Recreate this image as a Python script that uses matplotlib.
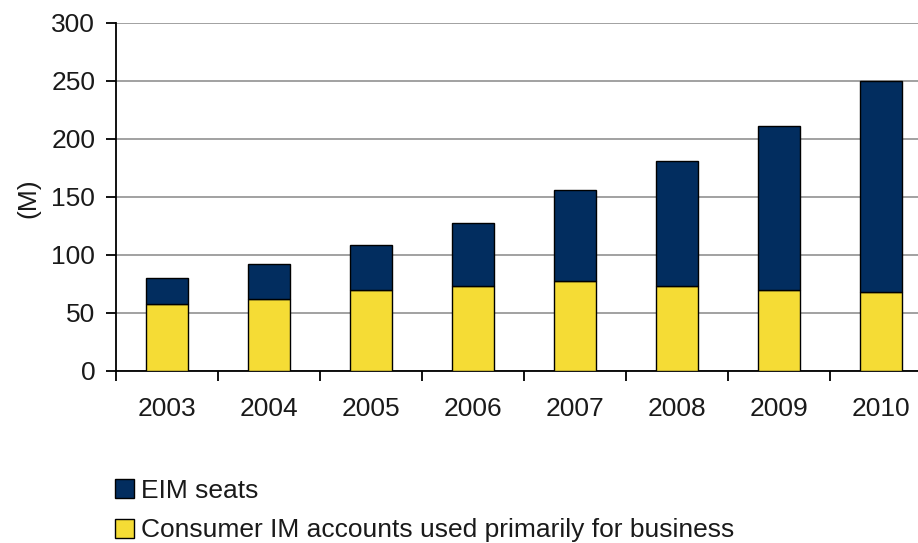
import matplotlib.pyplot as plt
import numpy as np
from matplotlib.patches import Patch

years = ["2003", "2004", "2005", "2006", "2007", "2008", "2009", "2010"]
consumer_im = [58, 62, 70, 73, 78, 73, 70, 68]
eim_seats = [22, 30, 39, 55, 78, 108, 141, 182]

navy = "#022d5f"
yellow = "#f5dc35"
txt = "#1a1a1a"

plt.rcParams['font.family'] = ['Liberation Sans', 'DejaVu Sans']

fig = plt.figure(figsize=(9.18, 5.43), dpi=100)
ax = fig.add_axes([116 / 918, 172 / 543, 816 / 918, 348 / 543])

x = np.arange(len(years))
ax.bar(x, consumer_im, width=0.42, color=yellow, edgecolor="black", linewidth=1, zorder=3)
ax.bar(x, eim_seats, width=0.42, bottom=consumer_im, color=navy, edgecolor="black", linewidth=1, zorder=3)

ax.set_xlim(-0.5, len(years) - 0.5)
ax.set_ylim(0, 300)
ax.set_yticks(np.arange(0, 301, 50))
ax.grid(axis="y", color="#9a9a9a", linewidth=1.3, zorder=0)

ax.set_xticks(x)
ax.set_xticklabels(years)
ax.set_xticks(np.arange(-0.5, len(years)), minor=True)
ax.tick_params(axis="x", which="major", length=0, pad=19, labelsize=19, labelcolor=txt)
ax.tick_params(axis="x", which="minor", length=7, width=1.3, direction="out")
ax.tick_params(axis="y", length=7, width=1.3, direction="out", pad=8, labelsize=19, labelcolor=txt)
ax.tick_params(axis="both", which="both", color="black")

for s in ["top", "right"]:
    ax.spines[s].set_visible(False)
ax.spines["left"].set_linewidth(1.3)
ax.spines["bottom"].set_linewidth(1.3)

fig.text(28.5 / 918, 1 - 198 / 543, "(M)", rotation=90, ha="center", va="center",
         fontsize=19, color=txt)

handles = [Patch(facecolor=navy, edgecolor="black", label="EIM seats"),
           Patch(facecolor=yellow, edgecolor="black", label="Consumer IM accounts used primarily for business")]
fig.legend(handles=handles, loc="upper left", bbox_to_anchor=(104 / 918, 1 - 468 / 543),
           frameon=False, fontsize=19, handlelength=0.75, handleheight=0.75,
           handletextpad=0.25, labelspacing=0.6, borderaxespad=0, labelcolor=txt)

fig.savefig("out.png", dpi=100)
